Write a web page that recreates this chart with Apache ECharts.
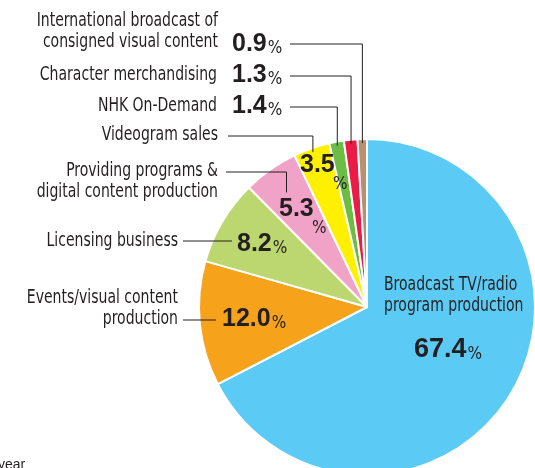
<!DOCTYPE html>
<html>
<head>
<meta charset="utf-8">
<script src="https://cdn.jsdelivr.net/npm/echarts@6/dist/echarts.min.js"></script>
<style>
  html, body { margin: 0; padding: 0; background: #fff; }
  #main { width: 535px; height: 468px; }
</style>
</head>
<body>
<div id="main"></div>
<script>
// revenue shares, clockwise from 12 o'clock
const names = [
    'Broadcast TV/radio\nprogram production',
    'Events/visual content\nproduction',
    'Licensing business',
    'Providing programs &\ndigital content production',
    'Videogram sales',
    'NHK On-Demand',
    'Character merchandising',
    'International broadcast of\nconsigned visual content'
];
const shares = [67.4, 12.0, 8.2, 5.3, 3.5, 1.4, 1.3, 0.9];
const colors = ['#5bcbf5', '#f7a21b', '#bdd770', '#f1a3c7', '#fff000', '#6cbd45', '#ec1b45', '#b98f6e'];

const CX = 367, CY = 307, R = 168;
const INK = '#231f20';
const NAME_FONT = '19px "DejaVu Sans Condensed", sans-serif';
const NAME_SQUEEZE = 0.82;
const VAL_FONT = 'bold 25px "Liberation Sans", sans-serif';
const PCT_FONT = '17px "DejaVu Sans Condensed", sans-serif';
const LH = 21;

// where each label sits: name anchor (first line middle), value anchor, leader line
const nameAt = [[384, 285, 'left'], [178, 298, 'right'], [178, 241, 'right'], [218, 171, 'right'],
                [218, 135, 'right'], [217, 106, 'right'], [217, 75, 'right'], [218, 21, 'right']];
const valueAt = [[414, 350], [222, 319], [237, 244], [279, 209], [300, 165], [232, 106], [232, 75], [232, 44]];
const pctBelow = [false, false, false, true, true, false, false, false];
const leaders = [null, [183, 320, 'h', 216], [183, 241, 'h', 232], [226, 172, 'r', 140],
                 [228, 136, 'r', 164], [290, 107, 'r', 164], [290, 76, 'r', 164], [290, 44, 'r', 164]];

function midPoint(i, rho) {
    let cum = 0;
    for (let k = 0; k < i; k++) cum += shares[k];
    const a = (cum + shares[i] / 2) / 100 * Math.PI * 2;
    return [CX + rho * Math.sin(a), CY - rho * Math.cos(a)];
}

const graphics = [];
names.forEach(function (n, i) {
    const na = nameAt[i];
    graphics.push({
        type: 'text', x: na[0], y: na[1] - LH / 2, scaleX: NAME_SQUEEZE, silent: true, z: 100,
        style: { text: n, fill: INK, font: NAME_FONT, textAlign: na[2], textVerticalAlign: 'top', lineHeight: LH }
    });
    const va = valueAt[i];
    const v = shares[i].toFixed(1);
    if (pctBelow[i]) {
        graphics.push({
            type: 'text', x: va[0], y: va[1], silent: true, z: 100,
            style: { text: v, fill: INK, font: VAL_FONT, textAlign: 'left', textVerticalAlign: 'middle' }
        });
        graphics.push({
            type: 'text', x: va[0] + 33, y: va[1] + 20, silent: true, z: 100,
            style: { text: '%', fill: INK, font: PCT_FONT, textAlign: 'left', textVerticalAlign: 'middle' }
        });
    } else {
        graphics.push({
            type: 'text', x: va[0], y: va[1], silent: true, z: 100,
            style: {
                text: '{v|' + v + '}{p|%}', fill: INK, textAlign: 'left', textVerticalAlign: 'middle',
                rich: {
                    v: { font: i === 0 ? 'bold 27px "Liberation Sans", sans-serif' : VAL_FONT, fill: INK, lineHeight: 26, verticalAlign: 'bottom' },
                    p: { font: PCT_FONT, fill: INK, lineHeight: 18, verticalAlign: 'bottom', padding: [0, 0, 0, 1] }
                }
            }
        });
    }
    const ld = leaders[i];
    if (ld) {
        let pts;
        if (ld[2] === 'h') {
            pts = [[ld[0], ld[1]], [ld[3], ld[1]]];
        } else {
            const p = midPoint(i, ld[3]);
            pts = [[ld[0], ld[1]], [p[0], ld[1]], [p[0], p[1]]];
        }
        graphics.push({
            type: 'polyline', silent: true, z: 100,
            shape: { points: pts },
            style: { stroke: INK, lineWidth: 1, fill: null }
        });
    }
});

// clipped caption at the bottom edge
graphics.push({
    type: 'text', x: -2, y: 458, silent: true, z: 100,
    style: { text: 'year', fill: INK, font: '14px "Liberation Sans", sans-serif', textVerticalAlign: 'top' }
});

const chart = echarts.init(document.getElementById('main'));
chart.setOption({
    animation: false,
    backgroundColor: '#fff',
    series: [{
        type: 'pie',
        center: [CX, CY],
        radius: R,
        startAngle: 90,
        clockwise: true,
        silent: true,
        z: 1,
        label: { show: false },
        labelLine: { show: false },
        itemStyle: { borderColor: '#fff', borderWidth: 2 },
        data: shares.map(function (v, i) {
            return { name: names[i], value: v, itemStyle: { color: colors[i] } };
        })
    }],
    graphic: graphics
});
</script>
</body>
</html>
